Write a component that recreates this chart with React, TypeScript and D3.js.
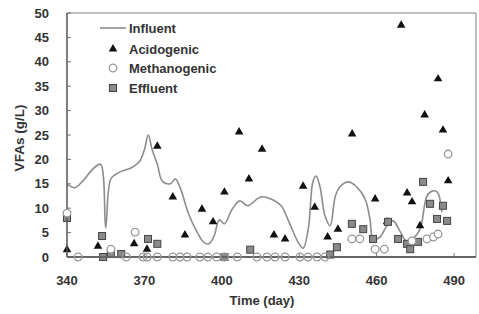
import React from "react";
import * as d3 from "d3";

// influent VFA trace (day, g/L)
const infDays = [340, 343, 346, 350, 353, 355, 357, 360, 365, 368, 370, 371.5, 373, 375, 377, 380, 382, 384, 387, 390, 393, 395, 397, 399, 401, 404, 407, 410, 415, 419, 423, 426, 429.5, 431.5, 433.5, 435.3, 436.5, 438, 440, 442, 444, 446, 449, 452, 455.5, 457.4, 458.6, 461.3, 464, 466.4, 469, 471.8, 474, 476.8, 479.5, 481.5, 483.5, 485.3];
const infVals = [15, 14.2, 15.5, 18, 19, 6, 16, 17.3, 18.3, 19.5, 22, 25, 22, 19, 15.5, 15, 16, 14, 9, 5.5, 3, 2.7, 4.3, 7.6, 6.8, 9.8, 11.5, 10.5, 12.3, 11.9, 10.5, 7.2, 3.1, 1.8, 5.7, 15.4, 16.6, 14.5, 8.4, 6.4, 12.5, 14.5, 15.4, 14.5, 11.9, 7.8, 3.7, 4.1, 6.4, 7.4, 5.3, 3.1, 3.7, 5.7, 12.5, 13.5, 13.3, 9.2];

const acidDays = [340, 352, 366, 371, 375, 381, 385.7, 392.3, 396.6, 401, 406.7, 410.5, 415.6, 420.2, 424.5, 431.5, 436, 441, 445, 450.5, 459.4, 464, 469.5, 471.8, 473.7, 476.8, 478.6, 483.8, 485.7, 487.7];
const acidVals = [1.5, 2.2, 2.7, 1.6, 22.7, 12.3, 4.5, 9.8, 7.2, 13.3, 25.6, 16, 22.1, 4.5, 3.7, 14.5, 10.2, 4.1, 5.7, 25.2, 11.9, 7.2, 47.5, 13.1, 11.3, 6.4, 29.1, 36.5, 26, 15.6];

const metDays = [340, 344.3, 357, 363, 366.4, 369.5, 371, 375, 381, 383.8, 386.5, 391.5, 394.6, 398, 401, 406, 413.6, 417.5, 420.6, 424.5, 430.3, 433.4, 436.9, 440, 450.4, 453.5, 459.4, 463, 473.7, 479.5, 482, 483.8, 487.7];
const metVals = [9, 0, 1.6, 0, 5.1, 0, 0, 0, 0, 0, 0, 0, 0, 0, 0, 0, 0, 0, 0, 0, 0, 0, 0, 0, 3.7, 3.7, 1.6, 1.6, 3.3, 3.7, 4.1, 4.7, 21.1];

const effDays = [340, 353.6, 354, 357, 361, 371.4, 375, 401, 411, 442, 444.6, 450.4, 454.8, 458.6, 464.4, 468.3, 471.8, 473, 476, 478, 480.7, 483.4, 485.7, 487.3];
const effVals = [8, 4.3, 0, 0.6, 0.6, 3.7, 2.7, 0, 1.5, 0.5, 2, 6.8, 5.7, 3.7, 7.2, 3.7, 2.7, 1.6, 3.1, 15.4, 10.9, 7.8, 10.5, 7.4];

const xTicks = [340, 370, 400, 430, 460, 490];
const yTicks = [0, 5, 10, 15, 20, 25, 30, 35, 40, 45, 50];

const W = 479;
const H = 314;
const font = "'Liberation Sans', Arial, sans-serif";

export default function App() {
  const x = d3.scaleLinear().domain([340, 498.5]).range([67, 476]);
  const y = d3.scaleLinear().domain([0, 50]).range([257, 13]);

  const line = d3
    .line<number>()
    .x((d, i) => x(infDays[i]))
    .y((d) => y(d))
    .curve(d3.curveCatmullRom.alpha(0.5));

  const tri = d3.symbol(d3.symbolTriangle, 32)();

  return (
    <svg
      width={W}
      height={H}
      style={{ position: "absolute", left: 0, top: 0, background: "#fff" }}
      fontFamily={font}
      fontWeight="bold"
    >
      {/* frame */}
      <line x1={67} x2={476} y1={13} y2={13} stroke="#aaa" strokeWidth={1.5} />
      <line x1={476} x2={476} y1={13} y2={257} stroke="#aaa" strokeWidth={1.5} />

      {/* y ticks */}
      {yTicks.map((t) => (
        <g key={"y" + t}>
          <line x1={67} x2={71} y1={y(t)} y2={y(t)} stroke="#777" />
          <text x={49} y={y(t)} dy="0.35em" textAnchor="end" fontSize={13} fill="#333">
            {t}
          </text>
        </g>
      ))}
      {/* x ticks */}
      {xTicks.map((t) => (
        <g key={"x" + t}>
          <line x1={x(t)} x2={x(t)} y1={257} y2={253} stroke="#777" />
          <text x={x(t)} y={285} textAnchor="middle" fontSize={13} fill="#333">
            {t}
          </text>
        </g>
      ))}

      {/* influent */}
      <path d={line(infVals) || ""} fill="none" stroke="#8c8c8c" strokeWidth={1.6} />

      {/* acidogenic */}
      {acidVals.map((v, i) => (
        <path key={"a" + i} d={tri || ""} transform={`translate(${x(acidDays[i])},${y(v)})`} fill="#111" />
      ))}

      {/* effluent */}
      {effVals.map((v, i) => (
        <rect
          key={"e" + i}
          x={x(effDays[i]) - 3.5}
          y={y(v) - 3.5}
          width={7}
          height={7}
          fill="#8a8a8a"
          stroke="#444"
          strokeWidth={1}
        />
      ))}

      {/* axes */}
      <line x1={67} x2={67} y1={13} y2={257} stroke="#555" strokeWidth={1.5} />
      <line x1={67} x2={476} y1={257} y2={257} stroke="#666" strokeWidth={2} />

      {/* methanogenic */}
      {metVals.map((v, i) => (
        <circle key={"m" + i} cx={x(metDays[i])} cy={y(v)} r={3.8} fill={v === 0 ? "none" : "#fff"} stroke="#999" strokeWidth={1.3} />
      ))}

      {/* legend */}
      <g fontSize={13} fill="#333">
        <line x1={100} x2={126} y1={28} y2={28} stroke="#8c8c8c" strokeWidth={1.6} />
        <text x={129} y={28} dy="0.35em">Influent</text>
        <path d={tri || ""} transform="translate(113,49)" fill="#111" />
        <text x={129} y={49} dy="0.35em">Acidogenic</text>
        <circle cx={113} cy={68} r={3.8} fill="#fff" stroke="#999" strokeWidth={1.3} />
        <text x={129} y={68} dy="0.35em">Methanogenic</text>
        <rect x={109.5} y={84.5} width={7} height={7} fill="#8a8a8a" stroke="#444" />
        <text x={129} y={88} dy="0.35em">Effluent</text>
      </g>

      {/* titles */}
      <text x={262} y={305} textAnchor="middle" fontSize={13} fill="#333">
        Time (day)
      </text>
      <text
        transform="translate(24,138) rotate(-90)"
        textAnchor="middle"
        fontSize={13.5}
        fill="#333"
      >
        VFAs (g/L)
      </text>
    </svg>
  );
}
